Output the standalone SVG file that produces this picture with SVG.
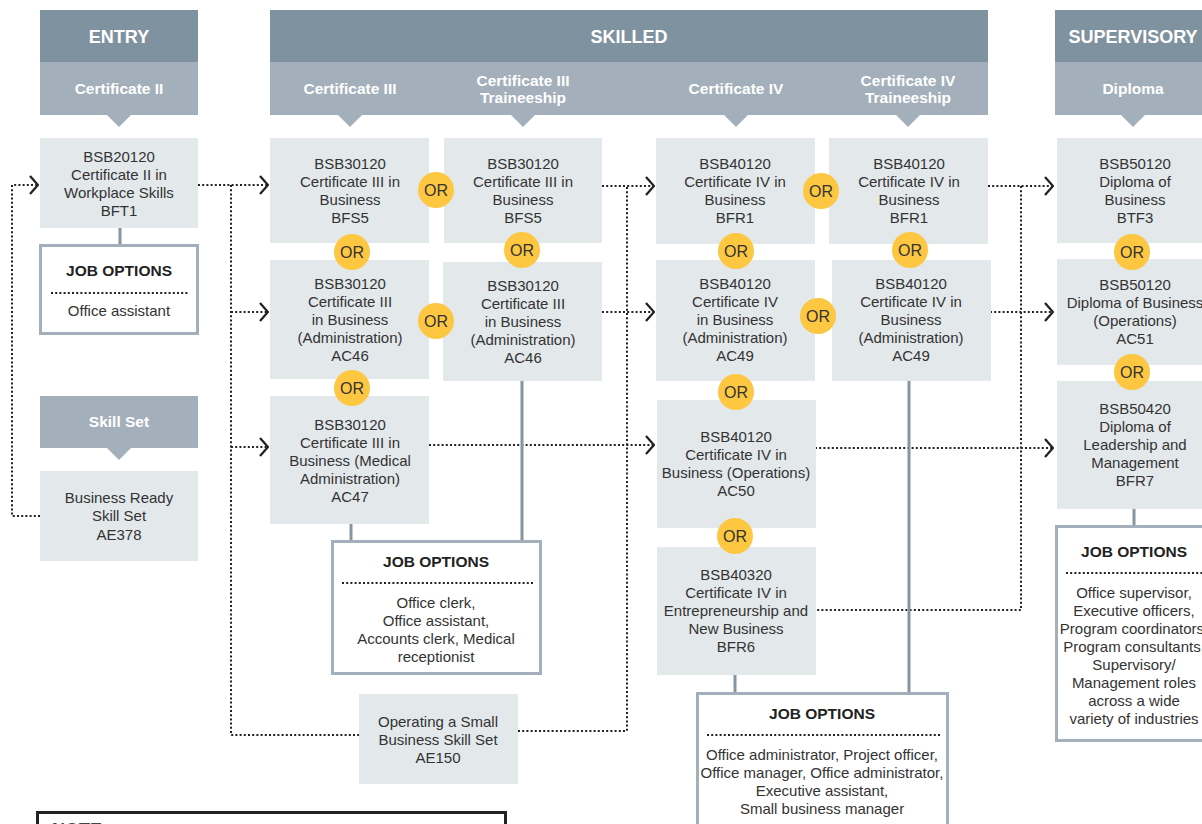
<svg xmlns="http://www.w3.org/2000/svg" width="1202" height="824" viewBox="0 0 1202 824">
<defs>
<style>
.hd{fill:#7f929f}
.sh{fill:#a3b0bb}
.nd{fill:#e3e8eb}
.jo{fill:#fff;stroke:#a3b0bb;stroke-width:3}
.ht{font-family:"Liberation Sans",Arial,sans-serif;font-weight:bold;font-size:18px;fill:#fff;text-anchor:middle}
.st{font-family:"Liberation Sans",Arial,sans-serif;font-weight:bold;font-size:15.5px;fill:#fff;text-anchor:middle}
.t{font-family:"Liberation Sans",Arial,sans-serif;font-size:15px;fill:#333;text-anchor:middle}
.jt{font-family:"Liberation Sans",Arial,sans-serif;font-weight:bold;font-size:15.5px;fill:#222;text-anchor:middle}
.or circle{fill:#fdc741}
.or text{font-family:"Liberation Sans",Arial,sans-serif;font-size:16px;fill:#333;text-anchor:middle}
.dl{fill:none;stroke:#222;stroke-width:2;stroke-dasharray:2 2.2}
.dot{fill:none;stroke:#222;stroke-width:2;stroke-dasharray:2 2.2}
.gl{fill:none;stroke:#8595a2;stroke-width:3}
</style>
<marker id="chev" viewBox="0 0 10 20" refX="9" refY="10" markerWidth="10" markerHeight="20" markerUnits="userSpaceOnUse" orient="auto">
<path d="M1,1 L9,10 L1,19" fill="none" stroke="#222" stroke-width="2.3"/>
</marker>
</defs>
<rect width="1202" height="824" fill="#fff"/>

<g id="headers">
<rect class="hd" x="40" y="10" width="158" height="52"/>
<rect class="sh" x="40" y="62" width="158" height="53"/>
<polygon class="sh" points="107,115 131,115 119,127"/>
<text class="ht" x="119" y="43">ENTRY</text>
<text class="st" x="119" y="94">Certificate II</text>

<rect class="hd" x="270" y="10" width="718" height="52"/>
<rect class="sh" x="270" y="62" width="718" height="53"/>
<polygon class="sh" points="338,115 362,115 350,127"/>
<polygon class="sh" points="511,115 535,115 523,127"/>
<polygon class="sh" points="724,115 748,115 736,127"/>
<polygon class="sh" points="896,115 920,115 908,127"/>
<text class="ht" x="629" y="43">SKILLED</text>
<text class="st" x="350" y="94">Certificate III</text>
<text class="st" x="523" y="86">Certificate III</text>
<text class="st" x="523" y="103">Traineeship</text>
<text class="st" x="736" y="94">Certificate IV</text>
<text class="st" x="908" y="86">Certificate IV</text>
<text class="st" x="908" y="103">Traineeship</text>

<rect class="hd" x="1055" y="10" width="160" height="52"/>
<rect class="sh" x="1055" y="62" width="160" height="53"/>
<polygon class="sh" points="1121,115 1145,115 1133,127"/>
<text class="ht" x="1133" y="43">SUPERVISORY</text>
<text class="st" x="1133" y="94">Diploma</text>

<rect class="sh" x="40" y="396" width="158" height="52"/>
<polygon class="sh" points="107,448 131,448 119,460"/>
<text class="st" x="119" y="427">Skill Set</text>
</g>

<g id="connectors">
<path class="dl" d="M40,516 H12 V185 H38" marker-end="url(#chev)"/>
<path class="dl" d="M198,185 H268" marker-end="url(#chev)"/>
<path class="dl" d="M231,185 V735 H359"/>
<path class="dl" d="M231,312 H268" marker-end="url(#chev)"/>
<path class="dl" d="M231,447 H268" marker-end="url(#chev)"/>
<path class="dl" d="M518,731 H627 V186"/>
<path class="dl" d="M602,186 H654" marker-end="url(#chev)"/>
<path class="dl" d="M602,312 H654" marker-end="url(#chev)"/>
<path class="dl" d="M429,445 H654" marker-end="url(#chev)"/>
<path class="dl" d="M988,186 H1053" marker-end="url(#chev)"/>
<path class="dl" d="M1021,186 V610 H815"/>
<path class="dl" d="M990,312 H1053" marker-end="url(#chev)"/>
<path class="dl" d="M815,448 H1053" marker-end="url(#chev)"/>
<path class="gl" d="M120,228 V245"/>
<path class="gl" d="M351,524 V541"/>
<path class="gl" d="M522,381 V541"/>
<path class="gl" d="M735,675 V693"/>
<path class="gl" d="M909,381 V693"/>
<path class="gl" d="M1134,509 V526"/>
</g>

<g id="n-bsb20120">
<rect class="nd" x="40" y="138" width="158" height="90"/>
<text class="t" x="119" y="162">BSB20120</text>
<text class="t" x="119" y="180">Certificate II in</text>
<text class="t" x="119" y="198">Workplace Skills</text>
<text class="t" x="119" y="216">BFT1</text>
</g>

<g id="jo-entry">
<rect class="jo" x="40.5" y="245.5" width="157" height="88"/>
<text class="jt" x="119" y="276">JOB OPTIONS</text>
<line class="dot" x1="51" y1="293" x2="189" y2="293"/>
<text class="t" x="119" y="316">Office assistant</text>
</g>

<g id="n-ae378">
<rect class="nd" x="40" y="471" width="158" height="90"/>
<text class="t" x="119" y="503">Business Ready</text>
<text class="t" x="119" y="521">Skill Set</text>
<text class="t" x="119" y="540">AE378</text>
</g>

<g id="n-c3-bfs5">
<rect class="nd" x="270" y="138" width="159" height="105"/>
<text class="t" x="350" y="169">BSB30120</text>
<text class="t" x="350" y="187">Certificate III in</text>
<text class="t" x="350" y="205">Business</text>
<text class="t" x="350" y="223">BFS5</text>
</g>
<g id="n-c3-ac46">
<rect class="nd" x="270" y="260" width="159" height="119"/>
<text class="t" x="350" y="289">BSB30120</text>
<text class="t" x="350" y="307">Certificate III</text>
<text class="t" x="350" y="325">in Business</text>
<text class="t" x="350" y="343">(Administration)</text>
<text class="t" x="350" y="361">AC46</text>
</g>
<g id="n-c3-ac47">
<rect class="nd" x="270" y="396" width="159" height="128"/>
<text class="t" x="350" y="430">BSB30120</text>
<text class="t" x="350" y="448">Certificate III in</text>
<text class="t" x="350" y="466">Business (Medical</text>
<text class="t" x="350" y="484">Administration)</text>
<text class="t" x="350" y="502">AC47</text>
</g>

<g id="n-c3t-bfs5">
<rect class="nd" x="444" y="138" width="158" height="105"/>
<text class="t" x="523" y="169">BSB30120</text>
<text class="t" x="523" y="187">Certificate III in</text>
<text class="t" x="523" y="205">Business</text>
<text class="t" x="523" y="223">BFS5</text>
</g>
<g id="n-c3t-ac46">
<rect class="nd" x="443" y="262" width="159" height="119"/>
<text class="t" x="523" y="291">BSB30120</text>
<text class="t" x="523" y="309">Certificate III</text>
<text class="t" x="523" y="327">in Business</text>
<text class="t" x="523" y="345">(Administration)</text>
<text class="t" x="523" y="363">AC46</text>
</g>

<g id="jo-cert3">
<rect class="jo" x="332.5" y="541.5" width="208" height="132"/>
<text class="jt" x="436" y="567">JOB OPTIONS</text>
<line class="dot" x1="342" y1="583" x2="533" y2="583"/>
<text class="t" x="436" y="608">Office clerk,</text>
<text class="t" x="436" y="626">Office assistant,</text>
<text class="t" x="436" y="644">Accounts clerk, Medical</text>
<text class="t" x="436" y="662">receptionist</text>
</g>

<g id="n-ae150">
<rect class="nd" x="359" y="694" width="159" height="90"/>
<text class="t" x="438" y="727">Operating a Small</text>
<text class="t" x="438" y="745">Business Skill Set</text>
<text class="t" x="438" y="763">AE150</text>
</g>

<g id="n-c4-bfr1">
<rect class="nd" x="656" y="138" width="159" height="106"/>
<text class="t" x="735" y="169">BSB40120</text>
<text class="t" x="735" y="187">Certificate IV in</text>
<text class="t" x="735" y="205">Business</text>
<text class="t" x="735" y="223">BFR1</text>
</g>
<g id="n-c4-ac49">
<rect class="nd" x="656" y="260" width="159" height="121"/>
<text class="t" x="735" y="289">BSB40120</text>
<text class="t" x="735" y="307">Certificate IV</text>
<text class="t" x="735" y="325">in Business</text>
<text class="t" x="735" y="343">(Administration)</text>
<text class="t" x="735" y="361">AC49</text>
</g>
<g id="n-c4-ac50">
<rect class="nd" x="657" y="400" width="159" height="128"/>
<text class="t" x="736" y="442">BSB40120</text>
<text class="t" x="736" y="460">Certificate IV in</text>
<text class="t" x="736" y="478">Business (Operations)</text>
<text class="t" x="736" y="496">AC50</text>
</g>
<g id="n-c4-bfr6">
<rect class="nd" x="657" y="547" width="159" height="128"/>
<text class="t" x="736" y="580">BSB40320</text>
<text class="t" x="736" y="598">Certificate IV in</text>
<text class="t" x="736" y="616">Entrepreneurship and</text>
<text class="t" x="736" y="634">New Business</text>
<text class="t" x="736" y="652">BFR6</text>
</g>

<g id="n-c4t-bfr1">
<rect class="nd" x="829" y="138" width="159" height="106"/>
<text class="t" x="909" y="169">BSB40120</text>
<text class="t" x="909" y="187">Certificate IV in</text>
<text class="t" x="909" y="205">Business</text>
<text class="t" x="909" y="223">BFR1</text>
</g>
<g id="n-c4t-ac49">
<rect class="nd" x="832" y="260" width="159" height="121"/>
<text class="t" x="911" y="289">BSB40120</text>
<text class="t" x="911" y="307">Certificate IV in</text>
<text class="t" x="911" y="325">Business</text>
<text class="t" x="911" y="343">(Administration)</text>
<text class="t" x="911" y="361">AC49</text>
</g>

<g id="jo-cert4">
<rect class="jo" x="697.5" y="693.5" width="250" height="140"/>
<text class="jt" x="822" y="719">JOB OPTIONS</text>
<line class="dot" x1="707" y1="735" x2="940" y2="735"/>
<text class="t" x="822" y="760">Office administrator, Project officer,</text>
<text class="t" x="822" y="778">Office manager, Office administrator,</text>
<text class="t" x="822" y="796">Executive assistant,</text>
<text class="t" x="822" y="814">Small business manager</text>
</g>

<g id="n-dip-btf3">
<rect class="nd" x="1057" y="138" width="160" height="105"/>
<text class="t" x="1135" y="169">BSB50120</text>
<text class="t" x="1135" y="187">Diploma of</text>
<text class="t" x="1135" y="205">Business</text>
<text class="t" x="1135" y="223">BTF3</text>
</g>
<g id="n-dip-ac51">
<rect class="nd" x="1057" y="259" width="160" height="106"/>
<text class="t" x="1135" y="290">BSB50120</text>
<text class="t" x="1135" y="308">Diploma of Business</text>
<text class="t" x="1135" y="326">(Operations)</text>
<text class="t" x="1135" y="344">AC51</text>
</g>
<g id="n-dip-bfr7">
<rect class="nd" x="1057" y="381" width="160" height="128"/>
<text class="t" x="1135" y="414">BSB50420</text>
<text class="t" x="1135" y="432">Diploma of</text>
<text class="t" x="1135" y="450">Leadership and</text>
<text class="t" x="1135" y="468">Management</text>
<text class="t" x="1135" y="486">BFR7</text>
</g>

<g id="jo-dip">
<rect class="jo" x="1056.5" y="526.5" width="160" height="214"/>
<text class="jt" x="1134" y="557">JOB OPTIONS</text>
<line class="dot" x1="1066" y1="573" x2="1202" y2="573"/>
<text class="t" x="1134" y="598">Office supervisor,</text>
<text class="t" x="1134" y="616">Executive officers,</text>
<text class="t" x="1134" y="634">Program coordinators,</text>
<text class="t" x="1134" y="652">Program consultants,</text>
<text class="t" x="1134" y="670">Supervisory/</text>
<text class="t" x="1134" y="688">Management roles</text>
<text class="t" x="1134" y="706">across a wide</text>
<text class="t" x="1134" y="724">variety of industries</text>
</g>

<g id="or-badges" class="or">
<circle cx="436" cy="190" r="18"/><text x="436" y="196">OR</text>
<circle cx="352" cy="252" r="18"/><text x="352" y="258">OR</text>
<circle cx="522" cy="250" r="18"/><text x="522" y="256">OR</text>
<circle cx="436" cy="321" r="18"/><text x="436" y="327">OR</text>
<circle cx="352" cy="388" r="18"/><text x="352" y="394">OR</text>
<circle cx="821" cy="191" r="18"/><text x="821" y="197">OR</text>
<circle cx="736" cy="251" r="18"/><text x="736" y="257">OR</text>
<circle cx="910" cy="250" r="18"/><text x="910" y="256">OR</text>
<circle cx="818" cy="316" r="18"/><text x="818" y="322">OR</text>
<circle cx="736" cy="392" r="18"/><text x="736" y="398">OR</text>
<circle cx="735" cy="536" r="18"/><text x="735" y="542">OR</text>
<circle cx="1132" cy="252" r="18"/><text x="1132" y="258">OR</text>
<circle cx="1132" cy="372" r="18"/><text x="1132" y="378">OR</text>
</g>

<g id="note">
<rect x="37.5" y="812.5" width="468" height="40" fill="#fff" stroke="#222" stroke-width="3"/>
<text x="52" y="836" font-family="'Liberation Sans',Arial,sans-serif" font-weight="bold" font-size="18" fill="#444">NOTE</text>
</g>
</svg>
